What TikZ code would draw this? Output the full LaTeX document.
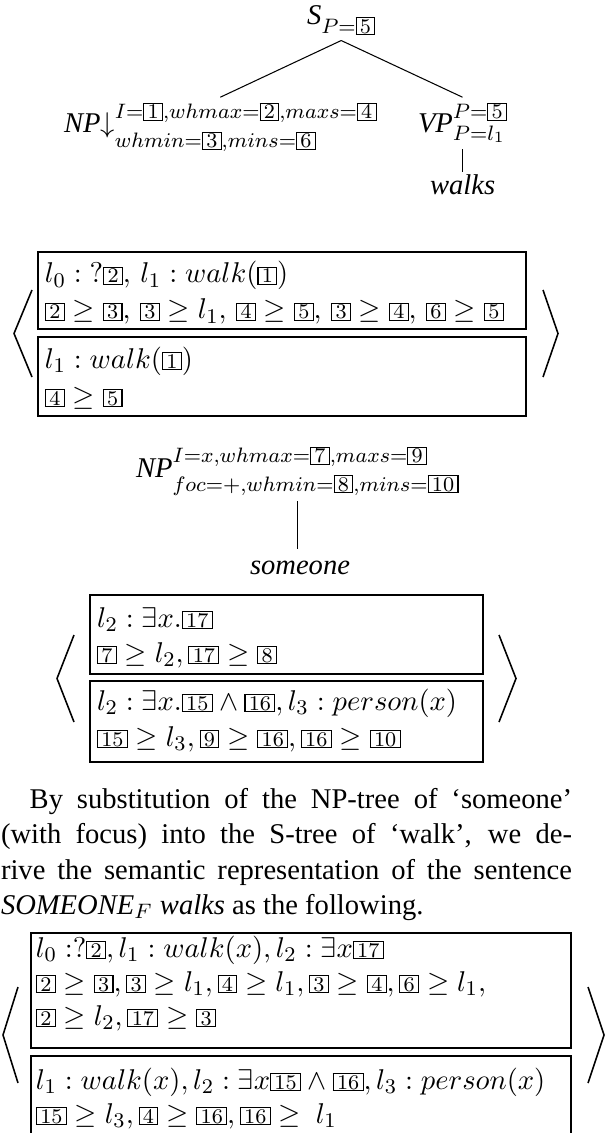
\documentclass[tikz,border=0pt]{standalone}
\usepackage[no-math]{fontspec}
\setmainfont{Liberation Serif}
\usetikzlibrary{fit,calc}
\newcommand{\bx}[1]{{\fboxsep=0.45pt\fboxrule=0.4pt\fbox{\kern0.8pt\fontsize{8}{9}\selectfont$\mathrm{#1}$\kern0.8pt}}}
% #1 raise of sup, #2 lowering of sub, #3 sup, #4 sub
\newcommand{\supsub}[4]{\setbox0=\hbox{$\scriptstyle #3$}\setbox2=\hbox{$\scriptstyle #4$}%
  \ifdim\wd0>\wd2 \dimen0=\wd0 \else \dimen0=\wd2 \fi
  \hbox to \dimen0{\rlap{\raise#1\box0}\lower#2\box2\hss}}
\begin{document}
\begin{tikzpicture}[x=0.3831pt,y=-0.3831pt,
  every node/.style={font=\fontsize{10.95}{13.6}\selectfont},
  lab/.style={anchor=base west,inner sep=0pt,outer sep=0pt},
  boxx/.style={draw,line width=0.4pt,inner sep=0pt,outer sep=0pt},
  brk/.style={line width=0.6pt,line join=miter},
  edge/.style={line width=0.4pt}]
\useasboundingbox (0,0) rectangle (608,1133);
\clip (0,0) rectangle (608,1133);

% ---- tree 1 ----
\node[lab] (S) at (307,25) {\textit{S}\lower3.1pt\hbox{$\scriptstyle P=\bx{5}$}};
\node[lab] (NP1) at (64,133) {\textit{NP}$\downarrow$\supsub{5.4pt}{5.7pt}{I=\bx{1},whmax=\bx{2},maxs=\bx{4}}{whmin=\bx{3},mins=\bx{6}}};
\node[lab] (VP) at (418,133) {\textit{VP}\supsub{5.4pt}{2.7pt}{P=\bx{5}}{P=l_1}};
\node[lab] (walks) at (430,195) {\textit{walks}};
\coordinate (Sb) at ([yshift=-2pt]S.south);
\draw[edge] (Sb) -- ([yshift=2.3pt]NP1.north);
\draw[edge] (Sb) -- ([yshift=2.3pt]VP.north);
\draw[edge] ([yshift=-2.5pt]VP.south) -- ([yshift=1.2pt]VP.south |- walks.north);

% ---- box 1 ----
\node[boxx,fit={(38,252)(526,329)}] (B1a) {};
\node[boxx,fit={(38,337)(526,416)}] (B1b) {};
\node[lab] (r11) at (45,283) {$l_0 : \;?\bx{2},\, l_1 : walk(\bx{1})$};
\node[lab] (r12) at (45,319) {$\bx{2} \geq \bx{3},\, \bx{3} \geq l_1,\, \bx{4} \geq \bx{5},\, \bx{3} \geq \bx{4},\, \bx{6} \geq \bx{5}$};
\node[lab] (r13) at (45,368) {$l_1 : walk(\bx{1})$};
\node[lab] (r14) at (45,405) {$\bx{4} \geq \bx{5}$};
\draw[brk] (32,290) -- (14,333.5) -- (32,377);
\draw[brk] (543,290) -- (558,333.5) -- (543,377);

% ---- tree 2 ----
\node[lab] (NP2) at (136,477) {\textit{NP}\supsub{5.4pt}{5.4pt}{I=x,whmax=\bx{7},maxs=\bx{9}}{foc=+,whmin=\bx{8},mins=\bx{10}}};
\node[lab] (some) at (250,574) {\textit{someone}};
\draw[edge] ([yshift=-2.3pt]NP2.south) -- ([yshift=4.6pt]NP2.south |- some.north);

% ---- box 2 ----
\node[boxx,fit={(90,595)(483,674)}] (B2a) {};
\node[boxx,fit={(90,681)(483,762)}] (B2b) {};
\node[lab] (r21) at (97,627) {$l_2 : \exists x.\bx{17}$};
\node[lab] (r22) at (97,662) {$\bx{7} \geq l_2, \bx{17} \geq \bx{8}$};
\node[lab] (r23) at (97,710) {$l_2 : \exists x.\bx{15} \wedge \bx{16}, l_3 : person(x)$};
\node[lab] (r24) at (97,746) {$\bx{15} \geq l_3, \bx{9} \geq \bx{16}, \bx{16} \geq \bx{10}$};
\draw[brk] (74,635) -- (57,678.5) -- (74,722);
\draw[brk] (499,635) -- (516,678.5) -- (499,722);

% ---- paragraph ----
\node[lab] (p1) at (29.7,808) {\hbox to 207.8pt{By substitution of the NP-tree of ‘someone’}};
\node[lab] (p2) at (1,843.5) {\hbox to 218.75pt{(with focus) into the S-tree of ‘walk’, we de-}};
\node[lab] (p3) at (1,879) {\hbox to 218.75pt{rive the semantic representation of the sentence}};
\node[lab] (p4) at (1,914.5) {\textit{SOMEONE}$_F$ \textit{walks} as the following.};

% ---- box 3 ----
\node[boxx,fit={(31,933)(571,1048)}] (B3a) {};
\node[boxx,fit={(31,1056)(571,1139)}] (B3b) {};
\node[lab] (r31) at (36,957) {$l_0 \;{:}?\bx{2}, l_1 : walk(x), l_2 : \exists x\bx{17}$};
\node[lab] (r32) at (36,991) {$\bx{2} \geq \bx{3}, \bx{3} \geq l_1, \bx{4} \geq l_1, \bx{3} \geq \bx{4}, \bx{6} \geq l_1,$};
\node[lab] (r33) at (36,1025) {$\bx{2} \geq l_2, \bx{17} \geq \bx{3}$};
\node[lab] (r34) at (36,1089) {$l_1 : walk(x), l_2 : \exists x\bx{15} \wedge \bx{16}, l_3 : person(x)$};
\node[lab] (r35) at (36,1123) {$\bx{15} \geq l_3, \bx{4} \geq \bx{16}, \bx{16} \geq\ l_1$};
\draw[brk] (18,987) -- (3,1035) -- (18,1083);
\draw[brk] (588,987) -- (604,1035) -- (588,1083);
\end{tikzpicture}
\end{document}
